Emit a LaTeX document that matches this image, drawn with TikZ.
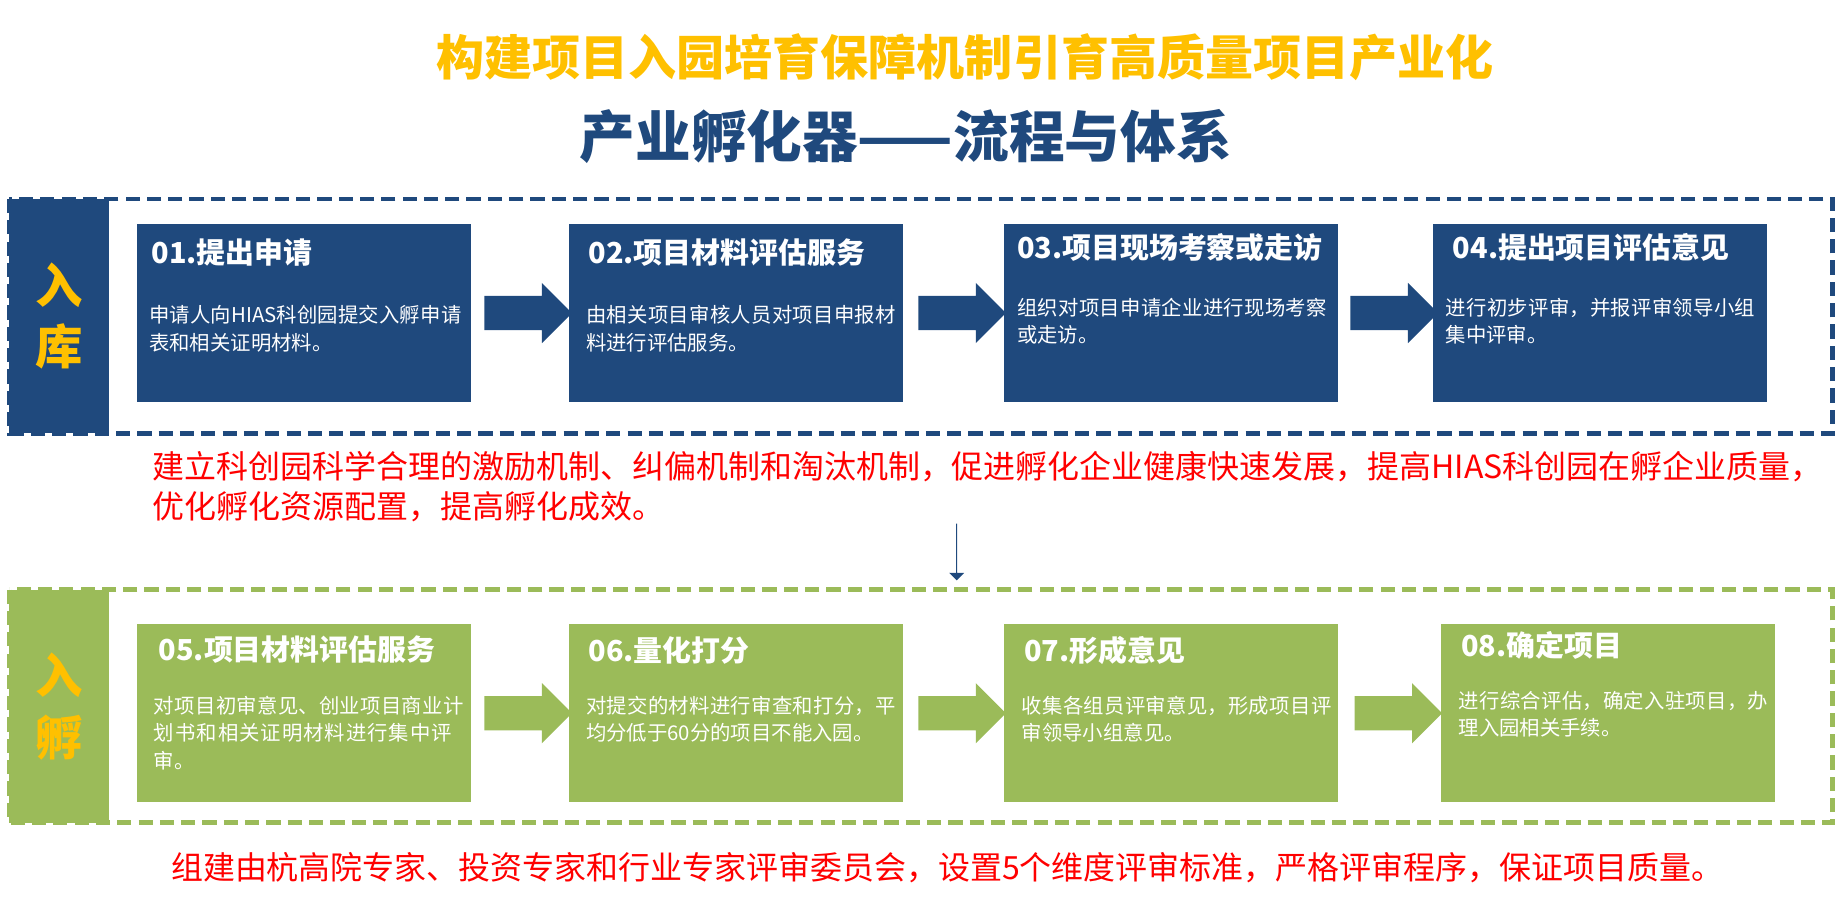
\documentclass[tikz,border=0pt]{standalone}
\usepackage{fontspec}
\setmainfont{Noto Sans CJK SC}
\XeTeXlinebreaklocale "zh"
\XeTeXlinebreakskip=0pt plus 1pt
\usetikzlibrary{shapes.arrows,positioning,calc}
\definecolor{navy}{RGB}{31,73,125}
\definecolor{leaf}{RGB}{155,187,89}
\definecolor{gold}{RGB}{255,192,0}
\tikzset
{
    stepbox/.style = {rectangle, minimum width=141pt, minimum height=75pt, inner sep=0pt, anchor=north west},
    steptitle/.style = {text=white, font=\bfseries\fontsize{12.2}{14}\selectfont, anchor=west},
    steptext/.style = {text=white, font=\fontsize{8.6}{11.5}\selectfont, align=left, text width=133pt, anchor=north west},
    flow/.style = {single arrow, single arrow head extend=5.5pt, minimum height=37pt, inner xsep=0pt, inner ysep=7pt, anchor=center},
    note/.style = {text=red, font=\fontsize{13.5}{17}\selectfont, align=left}
}
\begin{document}
\begin{tikzpicture}[x=0.5pt,y=-0.5pt]
    \useasboundingbox (0,0) rectangle (1560,764);
    \node (title) at (815,48) {\textcolor{gold}{\bfseries\fontsize{20.3}{24}\selectfont 构建项目入园培育保障机制引育高质量项目产业化}};
    \node (subtitle) at (765,115) {\textcolor{navy}{\bfseries\fontsize{23.5}{28}\selectfont 产业孵化器——流程与体系}};
    % stage one
    \draw[navy, line width=2pt, dash pattern=on 6pt off 3pt] (8,168) rectangle (1548,366);
    \fill[navy] (8,168) rectangle (92,366);
    \node[text=gold, font=\bfseries\fontsize{20}{26}\selectfont, align=center] (stageA) at (50,267) {入\\库};
    \node[stepbox, fill=navy] (s1) at (115,189) {};
    \node[stepbox, fill=navy] (s2) at (480,189) {};
    \node[stepbox, fill=navy] (s3) at (848,189) {};
    \node[stepbox, fill=navy] (s4) at (1210,189) {};
    \node[steptitle] at ([xshift=3pt,yshift=-12pt]s1.north west) {01.提出申请};
    \node[steptitle] at ([xshift=5pt,yshift=-12pt]s2.north west) {02.项目材料评估服务};
    \node[steptitle] at ([xshift=2pt,yshift=-10pt]s3.north west) {03.项目现场考察或走访};
    \node[steptitle] at ([xshift=5pt,yshift=-10pt]s4.north west) {04.提出项目评估意见};
    \node[steptext] at ([xshift=2pt,yshift=-31pt]s1.north west) {申请人向HIAS科创园提交入孵申请表和相关证明材料。};
    \node[steptext] at ([xshift=4pt,yshift=-31pt]s2.north west) {由相关项目审核人员对项目申报材料进行评估服务。};
    \node[steptext] at ([xshift=2pt,yshift=-28pt]s3.north west) {组织对项目申请企业进行现场考察或走访。};
    \node[steptext] at ([xshift=2pt,yshift=-28pt]s4.north west) {进行初步评审，并报评审领导小组集中评审。};
    \node[flow, fill=navy] (a1) at ($(s1.east)!0.5!(s2.west)$) {};
    \node[flow, fill=navy] (a2) at ($(s2.east)!0.5!(s3.west)$) {};
    \node[flow, fill=navy] (a3) at ($(s3.east)!0.5!(s4.west)$) {};
    \node[note, anchor=north west] (noteA) at (122,374) {建立科创园科学合理的激励机制、纠偏机制和淘汰机制，促进孵化企业健康快速发展，提高HIAS科创园在孵企业质量，\\优化孵化资源配置，提高孵化成效。};
    \node[single arrow, fill=navy, shape border rotate=270, minimum height=24pt, single arrow head extend=3pt, inner xsep=0pt, inner ysep=5.5pt] (down) at (808,466) {};
    % stage two
    \draw[leaf, line width=2pt, dash pattern=on 6pt off 3pt] (8,498) rectangle (1548,695);
    \fill[leaf] (8,498) rectangle (92,695);
    \node[text=gold, font=\bfseries\fontsize{20}{26}\selectfont, align=center] (stageB) at (50,597) {入\\孵};
    \node[stepbox, fill=leaf] (s5) at (115,527) {};
    \node[stepbox, fill=leaf] (s6) at (480,527) {};
    \node[stepbox, fill=leaf] (s7) at (848,527) {};
    \node[stepbox, fill=leaf] (s8) at (1217,527) {};
    \node[steptitle] at ([xshift=6pt,yshift=-11pt]s5.north west) {05.项目材料评估服务};
    \node[steptitle] at ([xshift=5pt,yshift=-11pt]s6.north west) {06.量化打分};
    \node[steptitle] at ([xshift=5pt,yshift=-11pt]s7.north west) {07.形成意见};
    \node[steptitle] at ([xshift=5pt,yshift=-9pt]s8.north west) {08.确定项目};
    \node[steptext] at ([xshift=4pt,yshift=-27pt]s5.north west) {对项目初审意见、创业项目商业计划书和相关证明材料进行集中评审。};
    \node[steptext] at ([xshift=4pt,yshift=-27pt]s6.north west) {对提交的材料进行审查和打分，平均分低于60分的项目不能入园。};
    \node[steptext] at ([xshift=4pt,yshift=-27pt]s7.north west) {收集各组员评审意见，形成项目评审领导小组意见。};
    \node[steptext] at ([xshift=4pt,yshift=-25pt]s8.north west) {进行综合评估，确定入驻项目，办理入园相关手续。};
    \node[flow, fill=leaf] (a5) at ($(s5.east)!0.5!(s6.west)$) {};
    \node[flow, fill=leaf] (a6) at ($(s6.east)!0.5!(s7.west)$) {};
    \node[flow, fill=leaf] (a7) at ($(s7.east)!0.5!(s8.west)$) {};
    \node[note] (noteB) at (800,733) {组建由杭高院专家、投资专家和行业专家评审委员会，设置5个维度评审标准，严格评审程序，保证项目质量。};
\end{tikzpicture}
\end{document}
